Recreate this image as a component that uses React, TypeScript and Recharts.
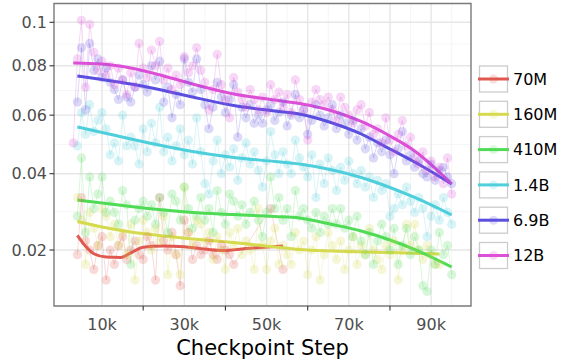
import { ComposedChart, Line, XAxis, YAxis, CartesianGrid, ReferenceArea } from 'recharts'

const FONT = '"DejaVu Sans", sans-serif'

const range = (from: number, to: number) => Array.from({ length: to - from + 1 }, (_, i) => from + i)

// checkpoint steps, in thousands
const steps70M = [...range(4, 42), 51, 54]
const steps160M = range(4, 92)
const stepsLarge = range(4, 95)
const steps12B = range(3, 95)

// per-checkpoint measurements
const values70M = [
  0.019, 0.033, 0.022, 0.020, 0.016, 0.021, 0.023, 0.014, 0.020, 0.017,
  0.021, 0.023, 0.018, 0.020, 0.022, 0.019, 0.018, 0.023, 0.021, 0.014,
  0.033, 0.022, 0.020, 0.024, 0.019, 0.013, 0.027, 0.024, 0.018, 0.021,
  0.019, 0.020, 0.022, 0.019, 0.018, 0.021, 0.020, 0.019, 0.017, 0.030,
  0.016,
]
const values160M = [
  0.033, 0.027, 0.017, 0.029, 0.025, 0.021, 0.030, 0.028, 0.023, 0.026,
  0.021, 0.024, 0.019, 0.026, 0.014, 0.022, 0.027, 0.024, 0.020, 0.025,
  0.022, 0.028, 0.015, 0.023, 0.019, 0.015, 0.036, 0.024, 0.021, 0.027,
  0.026, 0.022, 0.024, 0.018, 0.023, 0.020, 0.016, 0.024, 0.021, 0.025,
  0.019, 0.022, 0.020, 0.016, 0.030, 0.021, 0.016, 0.022, 0.025, 0.017,
  0.021, 0.019, 0.017, 0.024, 0.020, 0.022, 0.015, 0.020, 0.023, 0.014,
  0.019, 0.024, 0.021, 0.018, 0.022, 0.016, 0.020, 0.023, 0.017, 0.021,
  0.019, 0.025, 0.020, 0.018, 0.016, 0.021, 0.019, 0.022, 0.014, 0.020,
  0.026, 0.021, 0.026, 0.020, 0.018, 0.021, 0.019, 0.017, 0.017,
]
const values410M = [
  0.028, 0.045, 0.024, 0.039, 0.030, 0.034, 0.039, 0.029, 0.032, 0.029,
  0.026, 0.035, 0.031, 0.017, 0.027, 0.030, 0.032, 0.028, 0.031, 0.026,
  0.033, 0.029, 0.024, 0.034, 0.032, 0.027, 0.036, 0.030, 0.025, 0.028,
  0.033, 0.027, 0.030, 0.024, 0.035, 0.029, 0.026, 0.034, 0.032, 0.028,
  0.031, 0.026, 0.029, 0.032, 0.027, 0.023, 0.029, 0.039, 0.030, 0.033,
  0.027, 0.030, 0.023, 0.035, 0.028, 0.030, 0.027, 0.025, 0.029, 0.024,
  0.028, 0.026, 0.030, 0.026, 0.030, 0.025, 0.027, 0.023, 0.028, 0.022,
  0.019, 0.024, 0.017, 0.022, 0.026, 0.023, 0.020, 0.025, 0.017, 0.021,
  0.025, 0.019, 0.023, 0.020, 0.013, 0.012, 0.020, 0.017, 0.024, 0.019,
  0.021, 0.015,
]
const values1_4B = [
  0.049, 0.061, 0.053, 0.064, 0.054, 0.058, 0.061, 0.055, 0.046, 0.050,
  0.044, 0.060, 0.049, 0.052, 0.049, 0.043, 0.055, 0.047, 0.057, 0.050,
  0.063, 0.047, 0.052, 0.044, 0.049, 0.055, 0.046, 0.051, 0.043, 0.059,
  0.047, 0.037, 0.034, 0.044, 0.051, 0.040, 0.046, 0.042, 0.048, 0.038,
  0.045, 0.050, 0.043, 0.047, 0.041, 0.036, 0.044, 0.054, 0.046, 0.040,
  0.047, 0.043, 0.040, 0.051, 0.045, 0.042, 0.039, 0.046, 0.033, 0.043,
  0.037, 0.045, 0.041, 0.035, 0.042, 0.038, 0.044, 0.040, 0.037, 0.041,
  0.036, 0.039, 0.033, 0.038, 0.035, 0.037, 0.028, 0.030, 0.034, 0.031,
  0.036, 0.032, 0.029, 0.033, 0.030, 0.023, 0.028, 0.031, 0.027, 0.033,
  0.029, 0.026,
]
const values6_9B = [
  0.065, 0.088, 0.062, 0.090, 0.078, 0.083, 0.075, 0.079, 0.073, 0.070,
  0.066, 0.074, 0.067, 0.065, 0.071, 0.076, 0.072, 0.069, 0.080, 0.074,
  0.082, 0.065, 0.071, 0.059, 0.068, 0.064, 0.083, 0.073, 0.069, 0.083,
  0.070, 0.064, 0.055, 0.063, 0.073, 0.067, 0.061, 0.066, 0.072, 0.052,
  0.063, 0.059, 0.064, 0.057, 0.060, 0.057, 0.062, 0.064, 0.058, 0.061,
  0.065, 0.056, 0.060, 0.068, 0.059, 0.062, 0.053, 0.058, 0.064, 0.060,
  0.056, 0.059, 0.064, 0.055, 0.060, 0.057, 0.053, 0.058, 0.051, 0.055,
  0.048, 0.052, 0.045, 0.050, 0.047, 0.051, 0.046, 0.040, 0.048, 0.054,
  0.044, 0.046, 0.042, 0.044, 0.040, 0.039, 0.043, 0.038, 0.041, 0.042,
  0.039, 0.037,
]
const values12B = [
  0.050, 0.083, 0.101, 0.071, 0.099, 0.086, 0.078, 0.082, 0.076, 0.080,
  0.072, 0.079, 0.074, 0.068, 0.077, 0.071, 0.090, 0.079, 0.075, 0.087,
  0.080, 0.091, 0.074, 0.079, 0.070, 0.076, 0.072, 0.084, 0.077, 0.080,
  0.088, 0.078, 0.073, 0.062, 0.070, 0.085, 0.072, 0.066, 0.059, 0.075,
  0.069, 0.066, 0.063, 0.070, 0.066, 0.062, 0.067, 0.061, 0.072, 0.066,
  0.069, 0.063, 0.068, 0.061, 0.074, 0.066, 0.062, 0.051, 0.065, 0.070,
  0.066, 0.064, 0.067, 0.062, 0.058, 0.067, 0.063, 0.060, 0.057, 0.062,
  0.064, 0.056, 0.061, 0.053, 0.055, 0.050, 0.059, 0.051, 0.047, 0.053,
  0.058, 0.049, 0.052, 0.045, 0.043, 0.047, 0.041, 0.044, 0.039, 0.042,
  0.037, 0.045, 0.034,
]

// loess fits
const fitSteps = [4, 10, 17, 25, 32, 42, 52, 58, 66, 73, 80, 86, 95]
const fitSteps12B = [3, 10, 17, 25, 32, 42, 52, 58, 66, 73, 80, 86, 95]
const fitSteps160M = [4, 10, 17, 25, 32, 42, 52, 58, 66, 80, 92]
const fitSteps70M = [4, 6, 8, 11, 14.5, 17, 20, 25, 30, 34, 39, 46, 54]
const fit70M = [0.0233, 0.0208, 0.0192, 0.0185, 0.0184, 0.0194, 0.0206, 0.0209, 0.0207, 0.0203, 0.0199, 0.0204, 0.0209]
const fit160M = [0.02667, 0.02531, 0.0241, 0.02316, 0.02246, 0.02166, 0.02066, 0.02011, 0.01978, 0.01946, 0.01914]
const fit410M = [0.03233, 0.03151, 0.03056, 0.02963, 0.02897, 0.02845, 0.02794, 0.02755, 0.02592, 0.02434, 0.02223, 0.02011, 0.01648]
const fit1_4B = [0.05563, 0.05365, 0.05136, 0.04896, 0.04711, 0.04513, 0.04383, 0.04303, 0.04114, 0.03884, 0.03587, 0.03303, 0.02832]
const fit6_9B = [0.07563, 0.07416, 0.07229, 0.06963, 0.06702, 0.06369, 0.06157, 0.06044, 0.05708, 0.05312, 0.04794, 0.04367, 0.0369]
const fit12B = [0.08122, 0.08078, 0.07905, 0.07563, 0.07229, 0.06822, 0.06583, 0.06446, 0.06157, 0.05764, 0.05241, 0.04728, 0.0369]

const modelNames = ['70M', '160M', '410M', '1.4B', '6.9B', '12B']
const colors = ['#E0584F', '#D5DA4E', '#4FDB55', '#4FCFDB', '#5A4FDF', '#DC4FD6']

const yTicks = [0.02, 0.04, 0.06, 0.08, 0.1]
const xTicks = [10, 20, 30, 40, 50, 60, 70, 80, 90]
const xMinor = [5, 15, 25, 35, 45, 55, 65, 75, 85, 95]

const X_DOMAIN: [number, number] = [-1.68, 99.7]
const Y_DOMAIN: [number, number] = [0.009688, 0.10934]

const zip = (steps: number[], values: number[]) => steps.map((step, i) => ({ step, v: values[i] }))

const series = [
  { raw: zip(steps70M, values70M), fit: zip(fitSteps70M, fit70M) },
  { raw: zip(steps160M, values160M), fit: zip(fitSteps160M, fit160M) },
  { raw: zip(stepsLarge, values410M), fit: zip(fitSteps, fit410M) },
  { raw: zip(stepsLarge, values1_4B), fit: zip(fitSteps, fit1_4B) },
  { raw: zip(stepsLarge, values6_9B), fit: zip(fitSteps, fit6_9B) },
  { raw: zip(steps12B, values12B), fit: zip(fitSteps12B, fit12B) },
].map((s, i) => ({ ...s, name: modelNames[i], color: colors[i] }))

// minor gridlines sit halfway between majors on the sqrt scale
const yMinor = yTicks.slice(1).map((t, i) => ((Math.sqrt(t) + Math.sqrt(yTicks[i])) / 2) ** 2)

function StepTick({ x, y, payload }: any) {
  const v = payload.value
  if (v % 20 === 0) {
    return <line x1={x} x2={x} y1={y} y2={y + 4.5} stroke="#333" strokeWidth={1.1} />
  }
  return (
    <text x={x} y={y + 23.5} textAnchor="middle" fill="#4d4d4d" fontSize={16} fontFamily={FONT}>
      {v}k
    </text>
  )
}

function Legend() {
  return (
    <svg width={562} height={363} style={{ position: 'absolute', left: 0, top: 0, pointerEvents: 'none' }}>
      {series.map((s, i) => {
        const cy = 79 + i * 35.3
        return (
          <g key={s.name}>
            <rect x={479.5} y={cy - 13} width={28} height={26} fill="#fff" stroke="#cccccc" strokeWidth={1.3} />
            <circle cx={493.5} cy={cy} r={4.5} fill={s.color} fillOpacity={0.2} />
            <line x1={478} x2={509} y1={cy} y2={cy} stroke={s.color} strokeWidth={3} />
            <text x={513} y={cy + 5.6} fontSize={16} fontFamily={FONT} fill="#000">
              {s.name}
            </text>
          </g>
        )
      })}
      <text x={262.5} y={355} textAnchor="middle" fontSize={21} fontFamily={FONT} fill="#000">
        Checkpoint Step
      </text>
    </svg>
  )
}

export default function App() {
  return (
    <div style={{ position: 'absolute', left: 0, top: 0, width: 562, height: 363, background: '#fff' }}>
      <ComposedChart width={562} height={363} margin={{ top: 3.5, right: 91, bottom: 0, left: 0 }}>
        <CartesianGrid
          horizontalValues={yMinor}
          verticalValues={xMinor}
          stroke="#f3f3f3"
          strokeWidth={0.8}
        />
        <CartesianGrid
          horizontalValues={yTicks}
          verticalValues={xTicks}
          stroke="#e6e6e6"
          strokeWidth={1.4}
        />
        <XAxis
          type="number"
          dataKey="step"
          domain={X_DOMAIN}
          allowDataOverflow
          ticks={xTicks}
          tick={<StepTick />}
          tickLine={false}
          axisLine={false}
          tickSize={0}
          tickMargin={0}
          height={57}
          interval={0}
        />
        <YAxis
          type="number"
          dataKey="v"
          scale="sqrt"
          domain={Y_DOMAIN}
          allowDataOverflow
          ticks={yTicks}
          tickFormatter={(v: number) => (v === 0.1 ? '0.1' : v.toFixed(2))}
          tick={{ fill: '#4d4d4d', fontSize: 16, fontFamily: FONT }}
          tickLine={{ stroke: '#333', strokeWidth: 1.1 }}
          axisLine={false}
          tickSize={4.5}
          tickMargin={2.5}
          width={54}
          interval={0}
        />
        {series.map((s) => (
          <Line
            key={`raw-${s.name}`}
            data={s.raw}
            dataKey="v"
            type="linear"
            stroke={s.color}
            strokeOpacity={0.22}
            strokeWidth={1}
            dot={{ r: 4.6, fill: s.color, fillOpacity: 0.22, stroke: 'none' }}
            activeDot={false}
            isAnimationActive={false}
          />
        ))}
        {series.map((s) => (
          <Line
            key={`fit-${s.name}`}
            data={s.fit}
            dataKey="v"
            type="monotone"
            stroke={s.color}
            strokeWidth={3}
            dot={false}
            activeDot={false}
            isAnimationActive={false}
          />
        ))}
        <ReferenceArea
          x1={X_DOMAIN[0]}
          x2={X_DOMAIN[1]}
          y1={Y_DOMAIN[0]}
          y2={Y_DOMAIN[1]}
          fill="none"
          stroke="#7a7a7a"
          strokeWidth={1.4}
          ifOverflow="extendDomain"
        />
      </ComposedChart>
      <Legend />
    </div>
  )
}
